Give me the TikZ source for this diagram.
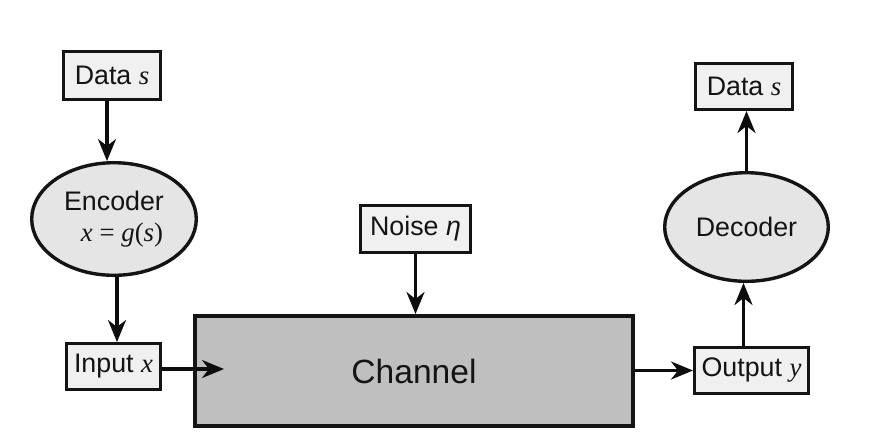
\documentclass[tikz,border=0pt]{standalone}
\usepackage{fontspec}
\setmainfont{Liberation Sans}
\newfontfamily\serifm{Liberation Serif}
\usetikzlibrary{arrows.meta,shapes.geometric}
\begin{document}
\begin{tikzpicture}[x=0.5pt,y=-0.5pt,
  lbl/.style={font=\fontsize{13.4}{14.4}\selectfont, text=black!92},
  smallbox/.style={draw=black!92, line width=1.7pt, fill=black!6, inner sep=0pt, lbl},
  oval/.style={ellipse, draw=black!92, line width=1.7pt, fill=black!10, inner sep=0pt, lbl, align=center},
  chan/.style={draw=black!92, line width=2.2pt, fill=black!25, inner sep=0pt, font=\fontsize{16.8}{18}\selectfont, text=black!92},
  arr/.style={line width=1.6pt, draw=black!95, -{Stealth[length=11pt,width=9pt,inset=3.5pt]}}]
\useasboundingbox[fill=white] (0,0) rectangle (878,447);
\newcommand{\mi}[1]{{\serifm\itshape #1}}
\node[smallbox, minimum width=48.3pt, minimum height=23.8pt] (dataL) at (112,75.5) {Data \mi{s}};
\node[oval, minimum width=82.3pt, minimum height=56.3pt] (enc) at (114,219) {Encoder\\[1pt]\hspace*{8pt}{\serifm\mi{x} = \mi{g}(\mi{s})}};
\node[smallbox, minimum width=46.8pt, minimum height=22.8pt] (input) at (113.5,366.5) {Input \mi{x}};
\node[smallbox, minimum width=54.8pt, minimum height=23.3pt] (noise) at (415.5,229) {Noise \textit{η}};
\node[chan, minimum width=218.8pt, minimum height=54.8pt] (chan) at (414,371) {Channel};
\node[smallbox, minimum width=56.8pt, minimum height=22.8pt] (output) at (751.5,370.5) {Output \mi{y}};
\node[oval, minimum width=81.8pt, minimum height=54.3pt] (dec) at (746.5,227) {Decoder};
\node[smallbox, minimum width=48.3pt, minimum height=22.8pt] (dataR) at (744,86.5) {Data \mi{s}};
\coordinate (inTip) at (224,369);
\draw[arr] ([xshift=-2.5pt]dataL.south) -- ([xshift=-2.5pt]dataL.south |- enc.north);
\draw[arr] ([xshift=1.5pt]enc.south) -- ([xshift=1.5pt]enc.south |- input.north);
\draw[arr] (input.east |- inTip) -- (inTip);
\draw[arr] (noise.south) -- (noise.south |- chan.north);
\draw[arr] (chan.east |- output.west) -- (output.west);
\draw[arr] ([xshift=-4pt]output.north) -- ([xshift=-4pt]output.north |- dec.south);
\draw[arr] (dec.north) -- (dec.north |- dataR.south);
\end{tikzpicture}
\end{document}
